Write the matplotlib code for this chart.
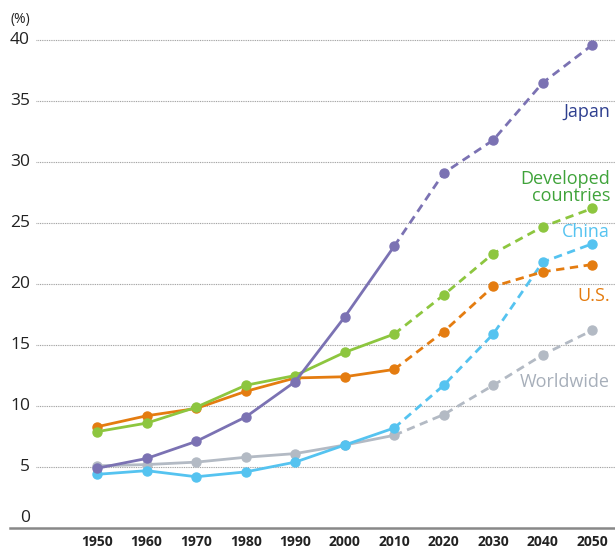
import matplotlib.pyplot as plt
from matplotlib.transforms import blended_transform_factory

years = [1950, 1960, 1970, 1980, 1990, 2000, 2010, 2020, 2030, 2040, 2050]
japan = [4.9, 5.7, 7.1, 9.1, 12.0, 17.3, 23.1, 29.1, 31.8, 36.5, 39.6]
developed = [7.9, 8.6, 9.9, 11.7, 12.5, 14.4, 15.9, 19.1, 22.5, 24.7, 26.2]
us = [8.3, 9.2, 9.8, 11.2, 12.3, 12.4, 13.0, 16.1, 19.8, 21.0, 21.6]
china = [4.4, 4.7, 4.2, 4.6, 5.4, 6.8, 8.2, 11.7, 15.9, 21.8, 23.3]
worldwide = [5.1, 5.2, 5.4, 5.8, 6.1, 6.8, 7.6, 9.3, 11.7, 14.2, 16.2]
y_ticks = [0, 5, 10, 15, 20, 25, 30, 35, 40]
LAST_ACTUAL = 6  # index of 2010; projections after

plt.rcParams["font.family"] = ["Open Sans", "DejaVu Sans"]

W, H = 615, 549
fig = plt.figure(figsize=(W / 100, H / 100), dpi=100)
left, right = 10, 615
bottom, top = 528, 34
ax = fig.add_axes([left / W, 1 - bottom / H, (right - left) / W, (bottom - top) / H])

ax.set_xlim(1932.4, 2054.6)
ax.set_ylim(0, 40.5)

grid_start = (36 - left) / (right - left)
for v in y_ticks[1:]:
    ax.axhline(v, xmin=grid_start, xmax=1, color="#999999", lw=0.8,
               ls=(0, (0.8, 0.8)), zorder=1)

series = [
    (worldwide, "#b3bac4"),
    (china, "#55c3f0"),
    (us, "#e47c10"),
    (developed, "#8dc63f"),
    (japan, "#7b72b3"),
]
for vals, color in series:
    ax.plot(years[:LAST_ACTUAL + 1], vals[:LAST_ACTUAL + 1], color=color,
            lw=2.0, marker="o", ms=6.5, zorder=3)
    ax.plot(years[LAST_ACTUAL:], vals[LAST_ACTUAL:], color=color,
            lw=2.0, ls=(0, (3, 2)), zorder=3)
    ax.plot(years[LAST_ACTUAL + 1:], vals[LAST_ACTUAL + 1:], color=color,
            lw=0, marker="o", ms=6.5, zorder=3)

for s in ["top", "right", "left"]:
    ax.spines[s].set_visible(False)
ax.spines["bottom"].set_color("#888888")
ax.spines["bottom"].set_linewidth(1.8)

ax.set_xticks(years)
ax.set_xticklabels([str(y) for y in years], fontsize=10, fontweight="bold",
                   color="#222222")
ax.tick_params(axis="x", length=0, pad=5)
ax.set_yticks([])

tr = blended_transform_factory(fig.transFigure, ax.transData)
for v in y_ticks:
    ypos = v if v else 0.8  # zero label sits just above the axis line
    ax.text(30 / W, ypos, str(v), transform=tr, ha="right", va="center",
            fontsize=12.5, color="#222222")
fig.text(10 / W, 1 - 19 / H, "(%)", ha="left", va="center", fontsize=10,
         color="#222222")

# label centres in data units
labels = [
    ("Japan", 34.1, "#2e3f8f"),
    ("Developed\ncountries", 27.9, "#3fa33a"),
    ("China", 24.3, "#55c3f0"),
    ("U.S.", 19.0, "#e47c10"),
    ("Worldwide", 12.0, "#a7afba"),
]
for text, y, color in labels:
    ax.text(610 / W, y, text, transform=tr, ha="right", va="center",
            fontsize=13, color=color, linespacing=0.95, multialignment="right")

fig.savefig("out.png", dpi=100)
